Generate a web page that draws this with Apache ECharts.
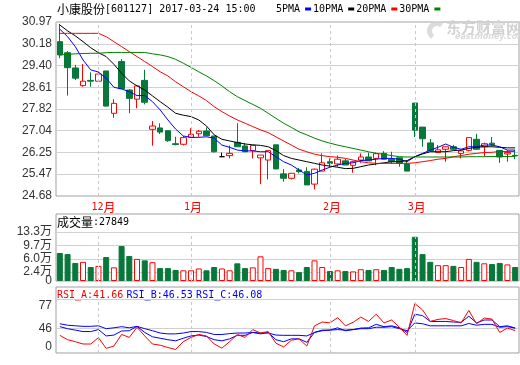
<!DOCTYPE html>
<html><head><meta charset="utf-8">
<script src="https://cdn.jsdelivr.net/npm/echarts@6/dist/echarts.min.js"></script>
<style>html,body{margin:0;padding:0;background:#fff}#c{width:520px;height:365px}</style>
</head><body><div id="c"></div>
<script>
// ---------- data ----------
const stockName = '小康股份';
const stockInfo = '[601127] 2017-03-24 15:00';
const maNames = ['5PMA', '10PMA', '20PMA', '30PMA'];
const monthStartIdx = [5, 17, 35, 46];
const monthLabels = ['12月', '1月', '2月', '3月'];
const priceTicks = [24.68, 25.47, 26.25, 27.04, 27.82, 28.61, 29.40, 30.18, 30.97];
const volTicks = [0, 2.4, 6.0, 9.7, 13.3];   // 万
const rsiTicks = [0, 46, 77];
const lastVolume = 27849;
const rsiLast = ['41.66', '46.53', '46.08'];

const open  = [30.26,29.86,29.31,28.67,28.86,28.83,29.20,27.67,29.54,28.51,28.18,28.86,27.09,27.14,27.04,26.57,26.55,26.80,26.93,27.03,
               26.85,26.10,26.14,26.62,26.49,26.32,26.06,25.98,26.53,25.48,25.32,25.62,25.57,25.11,25.58,25.92,25.84,25.95,25.79,25.98,
               26.09,26.04,26.22,26.01,26.06,25.84,28.04,27.17,26.60,26.25,26.37,26.46,26.22,26.33,26.73,26.46,26.59,26.33,26.20,26.15];
const close = [29.78,29.32,28.94,28.83,28.83,29.09,27.93,28.03,28.56,28.21,28.66,28.07,27.21,26.99,26.68,26.54,26.79,26.91,27.02,26.86,
               26.28,26.10,26.22,26.46,26.28,26.51,26.16,26.32,25.66,25.32,25.50,25.56,25.08,25.65,25.88,25.86,26.01,25.80,25.92,26.09,
               25.95,26.21,26.01,25.92,25.86,25.58,27.06,26.75,26.31,26.35,26.46,26.37,26.31,26.79,26.37,26.57,26.54,26.09,26.25,26.13];
const low   = [29.66,28.31,28.87,28.63,28.63,28.83,27.91,27.51,28.55,27.67,27.85,27.99,26.50,26.92,26.64,26.51,26.51,26.80,26.82,26.86,
               26.25,26.10,26.04,26.46,26.27,26.04,25.11,25.28,25.64,25.20,25.28,25.50,25.08,24.92,25.58,25.74,25.74,25.80,25.52,25.88,
               25.95,25.79,26.00,25.84,25.74,25.58,26.81,26.46,26.29,26.25,25.92,26.33,26.04,26.29,26.35,26.10,26.49,25.88,25.92,26.01];
const high  = [30.90,29.92,29.42,29.45,29.15,29.17,29.20,28.18,29.63,28.54,28.70,29.24,27.39,27.31,27.04,26.82,26.85,27.13,27.07,27.16,
               26.85,26.25,26.50,27.31,26.59,26.51,26.16,26.32,26.53,25.65,25.50,25.69,25.72,25.67,26.22,26.04,26.14,26.02,25.95,26.22,
               26.25,26.25,26.30,26.28,26.06,25.91,28.04,27.17,26.74,26.52,26.46,26.53,26.35,26.79,26.93,26.61,26.81,26.33,26.34,26.34];

const ma5  = [30.71,30.44,30.08,29.60,29.24,29.16,28.94,28.61,28.55,28.45,28.31,28.31,28.09,27.79,27.43,27.10,26.85,26.80,26.80,26.82,
              26.77,26.52,26.44,26.34,26.31,26.31,26.28,26.28,26.10,25.92,25.80,25.62,25.44,25.50,25.62,25.72,25.80,25.86,25.88,25.96,
              25.98,26.01,26.04,26.04,26.01,25.92,26.10,26.22,26.34,26.44,26.56,26.44,26.37,26.46,26.46,26.52,26.52,26.46,26.34,26.34];
const ma10 = [30.86,30.65,30.47,30.26,30.04,29.86,29.72,29.44,29.12,28.84,28.66,28.51,28.30,28.09,27.89,27.67,27.60,27.55,27.43,27.21,
              26.89,26.73,26.67,26.61,26.56,26.53,26.51,26.46,26.32,26.14,26.04,25.98,25.92,25.86,25.80,25.76,25.72,25.67,25.68,25.74,
              25.80,25.84,25.88,25.92,25.92,25.96,26.10,26.20,26.28,26.28,26.28,26.32,26.34,26.40,26.44,26.46,26.46,26.44,26.42,26.42];
const ma20 = [30.56,30.56,30.56,30.56,30.56,30.56,30.44,30.26,30.08,29.90,29.72,29.54,29.36,29.17,29.02,28.81,28.63,28.45,28.30,28.13,
              27.91,27.73,27.57,27.43,27.31,27.19,27.07,26.97,26.82,26.67,26.52,26.37,26.28,26.19,26.14,26.10,26.08,26.04,25.98,25.92,
              25.88,25.86,25.86,25.86,25.86,25.86,25.88,25.92,25.96,26.01,26.04,26.10,26.14,26.19,26.22,26.25,26.26,26.29,26.29,26.29];
const ma30 = [29.78,29.80,29.82,29.83,29.84,29.84,29.86,29.87,29.87,29.87,29.87,29.87,29.82,29.78,29.72,29.62,29.48,29.33,29.17,29.02,
              28.85,28.66,28.45,28.27,28.13,27.99,27.85,27.67,27.49,27.31,27.16,27.00,26.89,26.77,26.67,26.59,26.52,26.46,26.40,26.34,
              26.28,26.22,26.19,26.14,26.10,26.09,26.09,26.09,26.09,26.09,26.09,26.09,26.09,26.10,26.10,26.10,26.11,26.11,26.11,26.11];

const volume = [7.6,7.3,4.9,5.2,3.8,4.1,6.5,3.7,9.5,6.8,6.0,5.6,5.1,3.5,3.5,3.0,2.9,2.9,3.4,2.9,
                3.8,3.4,2.9,4.8,3.5,3.7,6.7,3.5,3.3,3.0,2.9,2.4,3.8,5.6,3.8,2.7,2.9,2.7,2.6,3.2,
                3.0,3.2,3.0,3.8,3.3,3.5,12.0,7.3,5.2,4.3,4.3,4.1,3.8,6.0,5.2,4.8,4.6,4.9,4.5,3.8];

const rsiA = [32.8,24.7,21.0,16.7,16.7,28.5,8.6,12.9,34.4,29.0,47.8,31.7,16.7,14.5,10.2,6.5,21.0,29.0,34.4,31.7,
              16.7,9.1,21.0,34.4,29.0,43.5,37.1,39.8,18.2,11.3,23.7,26.3,12.9,50.5,57.5,56.0,65.6,50.5,57.0,66.7,
              58.6,72.0,55.9,61.3,47.8,32.8,91.9,80.1,58.6,62.4,64.0,60.2,55.9,79.0,54.3,65.0,63.0,38.2,46.3,41.66];
const rsiB = [48.9,45.2,42.5,39.8,39.8,43.5,31.7,33.3,40.9,41.4,49.5,38.2,30.1,27.4,24.7,22.6,27.4,31.7,33.3,30.6,
              24.7,22.6,26.3,32.8,32.8,38.2,35.5,38.2,24.7,21.0,26.3,26.3,19.9,38.2,42.5,42.5,46.8,41.4,43.5,46.3,
              46.8,53.2,48.9,50.5,46.8,38.2,72.0,69.4,58.6,58.6,58.6,57.5,57.0,68.3,55.9,61.3,61.3,48.9,50.5,46.53];
const rsiC = [54.3,51.6,50.5,49.5,49.5,50.5,45.2,46.8,48.9,46.8,49.5,45.2,41.4,37.1,35.5,35.5,37.1,39.8,39.8,38.2,
              34.4,34.4,36.0,37.1,37.1,38.2,37.1,37.1,33.3,32.8,32.8,32.8,31.7,38.2,41.4,42.5,43.5,42.5,43.5,45.2,
              45.2,47.8,47.8,48.9,45.2,41.4,55.9,54.3,50.5,50.5,50.5,50.5,50.5,54.8,51.6,53.2,53.2,47.8,48.9,46.08];

// ---------- styling / layout ----------
const RED = '#ff0000', GREEN = '#08783a', BLUE = '#0000ff';
const MONO = '"DejaVu Sans Mono", monospace';
const CJK = '"Noto Sans CJK SC", sans-serif';
const SANS = '"Liberation Sans", "Noto Sans CJK SC", sans-serif';
const L = 56, W = 463;
const days = open.map((_, i) => String(i));
const borderColor = '#a0a0a0', gridLineColor = '#d0d0d0';
const volTopY = 232, volPanel = [214, 281];
const volMax = volTicks[volTicks.length - 1] * (volPanel[1] - volPanel[0]) / (volPanel[1] - volTopY);
const rsiPanel = [287, 363], rsiHeadY = 301;
const rsiMax = 100 * (rsiPanel[1] - rsiPanel[0]) / (rsiPanel[1] - rsiHeadY);

function monthMarks(yLo, yHi) {
  return {
    silent: true, symbol: ['none', 'none'], animation: false,
    label: {show: false},
    lineStyle: {color: '#c8c8c8', type: [3, 3], width: 1},
    data: monthStartIdx.map(i => [{coord: [days[i], yLo]}, {coord: [days[i], yHi]}])
  };
}

const hiddenX = (gi, showLabel) => ({
  type: 'category', gridIndex: gi, data: days, boundaryGap: true,
  axisLine: {show: false}, axisTick: {show: false}, splitLine: {show: false},
  axisLabel: showLabel ? {
    interval: (idx) => monthStartIdx.includes(idx),
    formatter: (v, idx) => {
      const k = monthStartIdx.indexOf(idx);
      const t = monthLabels[k];
      const digits = t.replace('月', '');
      return '{s' + digits.length + '|}{d|' + digits + '}{m|月}';
    },
    margin: 5,
    rich: {
      s1: {width: 4}, s2: {width: 10},
      d: {fontFamily: MONO, fontSize: 10, color: RED},
      m: {fontFamily: CJK, fontSize: 12, color: RED}
    }
  } : {show: false}
});

// value axis helper: labels given explicitly; split lines at splitVals (or none)
function valueAxis(gi, min, max, labels, splitVals, fmt, lineHeight) {
  return {
    type: 'value', gridIndex: gi, min: min, max: max, position: 'left', offset: 0,
    axisLine: {show: false},
    axisTick: {show: false, customValues: splitVals || labels},
    axisLabel: {customValues: labels, hideOverlap: false, showMinLabel: true, showMaxLabel: true,
      formatter: fmt, fontFamily: SANS, fontSize: 12, color: '#333', margin: 4, lineHeight: lineHeight || 14},
    splitLine: {show: !!splitVals, lineStyle: {color: gridLineColor, width: 1}}
  };
}
const evenOf = arr => arr.filter((_, i) => i % 2 === 0);
const oddOf = arr => arr.filter((_, i) => i % 2 === 1);
const priceFmt = v => v.toFixed(2);
const volFmt = v => v === 0 ? '0' : v.toFixed(1) + '万';
const rsiFmt = v => v === 46 ? '46' : v + '\n';

const upBar = {color: '#fff', borderColor: RED, borderWidth: 1};
const downBar = {color: GREEN, borderColor: GREEN, borderWidth: 1};

const option = {
  animation: false,
  backgroundColor: '#fff',
  legend: {
    data: maNames, left: 276, top: 4, padding: 0, itemGap: 2,
    itemWidth: 6, itemHeight: 3, icon: 'rect', align: 'right', selectedMode: false,
    textStyle: {fontFamily: MONO, fontSize: 10, color: '#000'}
  },
  grid: [
    {left: L, top: 22, width: W, height: 174, show: true, borderColor: borderColor, borderWidth: 1},
    {left: L, top: volPanel[0], width: W, height: volPanel[1] - volPanel[0], show: true, borderColor: borderColor, borderWidth: 1},
    {left: L, top: rsiPanel[0], width: W, height: rsiPanel[1] - rsiPanel[0], show: true, borderColor: borderColor, borderWidth: 1}
  ],
  xAxis: [hiddenX(0, true), hiddenX(1, false), hiddenX(2, false)],
  yAxis: [
    valueAxis(0, priceTicks[0], priceTicks[priceTicks.length - 1], priceTicks, priceTicks, priceFmt),
    valueAxis(1, 0, volMax, evenOf(volTicks), volTicks.slice(1), volFmt),
    valueAxis(2, 0, rsiMax, evenOf(rsiTicks), [46, 100], rsiFmt, 12),
    valueAxis(1, 0, volMax, oddOf(volTicks), null, volFmt),
    valueAxis(2, 0, rsiMax, oddOf(rsiTicks), null, rsiFmt, 12)
  ],
  graphic: [
    {type: 'text', left: 57, top: 3, style: {
      text: '{c|' + stockName + '}{a|' + stockInfo + '}',
      rich: {c: {fontFamily: CJK, fontSize: 12, fill: '#000'}, a: {fontFamily: MONO, fontSize: 10, fill: '#000'}}
    }},
    {type: 'text', left: 57, top: 216, style: {
      text: '{c|成交量}{a|:' + lastVolume + '}',
      rich: {c: {fontFamily: CJK, fontSize: 12, fill: '#000'}, a: {fontFamily: MONO, fontSize: 10, fill: '#000'}}
    }},
    {type: 'text', left: 57, top: 289, style: {
      text: '{r|RSI_A:' + rsiLast[0] + '} {b|RSI_B:' + rsiLast[1] + '} {b|RSI_C:' + rsiLast[2] + '}',
      rich: {r: {fontFamily: MONO, fontSize: 10, fill: RED}, b: {fontFamily: MONO, fontSize: 10, fill: BLUE}}
    }},
    {type: 'sector', shape: {cx: 437, cy: 31, r: 10, r0: 5, startAngle: 2.2, endAngle: 5.4}, style: {fill: '#dcdcdc'}, z: 0},
    {type: 'text', left: 446, top: 20, style: {text: '东方财富网', font: 'bold 15px "Noto Sans CJK SC"', fill: '#d2d2d2'}, z: 0},
    {type: 'text', left: 455, top: 33, style: {text: 'eastmoney.com', font: 'italic bold 8px "DejaVu Sans"', fill: '#dadada'}, z: 0}
  ],
  series: [
    {
      type: 'candlestick', xAxisIndex: 0, yAxisIndex: 0, barWidth: 6,
      data: open.map((o, i) => [o, close[i], low[i], high[i]]),
      itemStyle: {color: '#fff', color0: GREEN, borderColor: RED, borderColor0: GREEN, borderColorDoji: '#000', borderWidth: 1},
      markLine: monthMarks(priceTicks[0], priceTicks[priceTicks.length - 1])
    },
    {name: maNames[0], type: 'line', xAxisIndex: 0, yAxisIndex: 0, data: ma5, symbol: 'none', color: BLUE, lineStyle: {width: 1, color: BLUE}},
    {name: maNames[1], type: 'line', xAxisIndex: 0, yAxisIndex: 0, data: ma10, symbol: 'none', color: '#000', lineStyle: {width: 1, color: '#000'}},
    {name: maNames[2], type: 'line', xAxisIndex: 0, yAxisIndex: 0, data: ma20, symbol: 'none', color: RED, lineStyle: {width: 1, color: RED}},
    {name: maNames[3], type: 'line', xAxisIndex: 0, yAxisIndex: 0, data: ma30, symbol: 'none', color: '#008000', lineStyle: {width: 1, color: '#008000'}},
    {
      type: 'bar', xAxisIndex: 1, yAxisIndex: 1, barWidth: 6,
      data: volume.map((v, i) => ({value: v, itemStyle: close[i] >= open[i] ? upBar : downBar})),
      markLine: monthMarks(0, volTicks[volTicks.length - 1])
    },
    {type: 'line', xAxisIndex: 2, yAxisIndex: 2, data: rsiC, symbol: 'none', lineStyle: {width: 1, color: BLUE},
      markLine: monthMarks(0, 100)},
    {type: 'line', xAxisIndex: 2, yAxisIndex: 2, data: rsiB, symbol: 'none', lineStyle: {width: 1, color: BLUE}},
    {type: 'line', xAxisIndex: 2, yAxisIndex: 2, data: rsiA, symbol: 'none', lineStyle: {width: 1, color: RED}}
  ]
};

const chart = echarts.init(document.getElementById('c'), null, {renderer: 'canvas'});
chart.setOption(option);
</script>
</body></html>
